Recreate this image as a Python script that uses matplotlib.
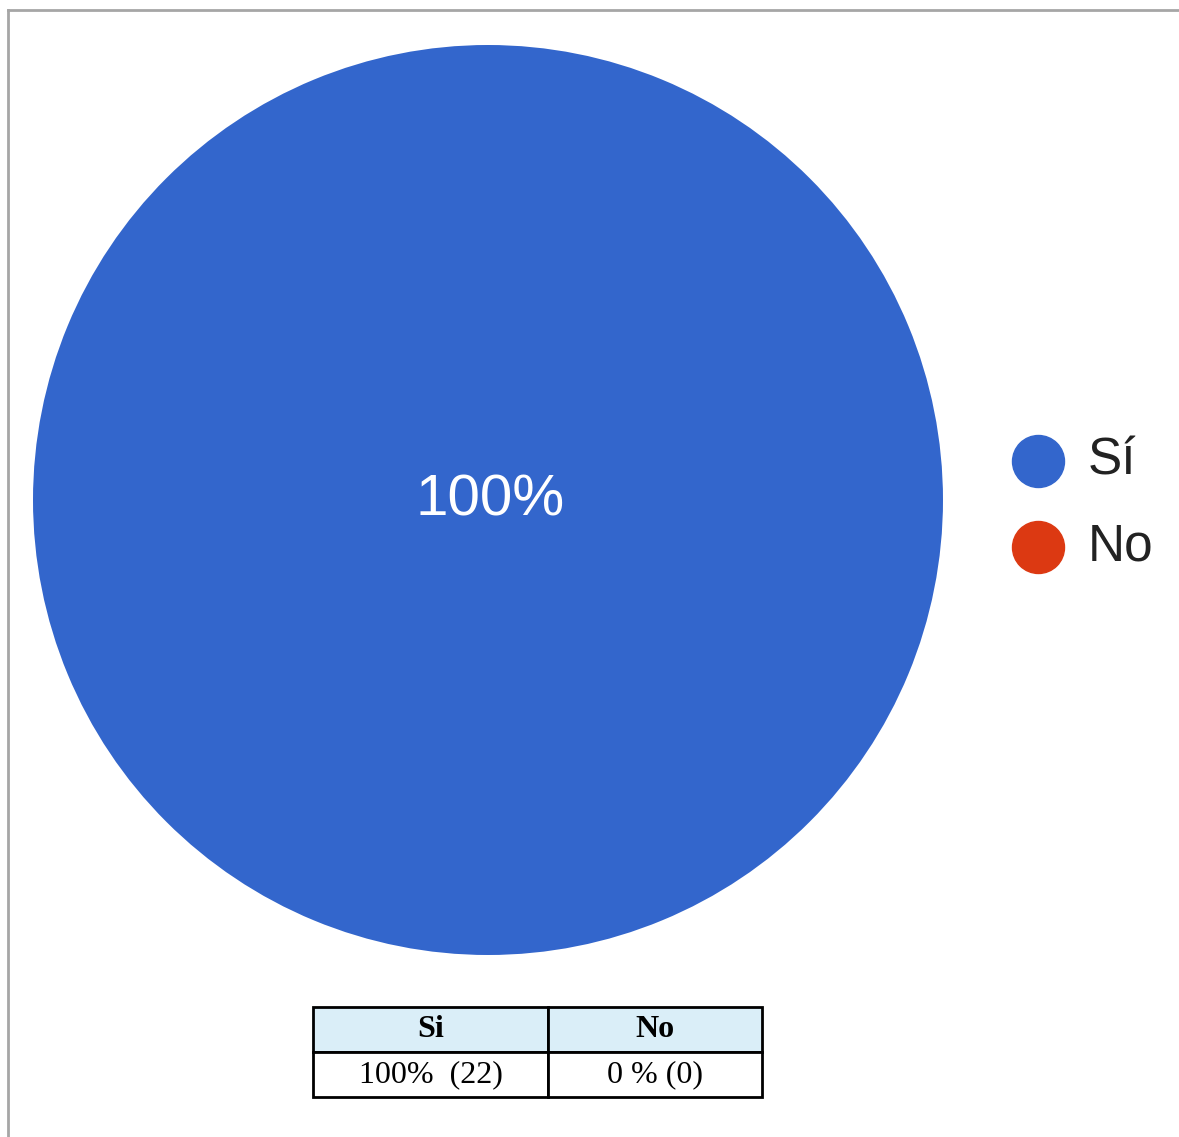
import matplotlib
matplotlib.use("Agg")
import matplotlib.pyplot as plt
from matplotlib.lines import Line2D

# Survey answers
categories = ["Sí", "No"]
counts = [22, 0]
colors = ["#3366CC", "#DC3912"]
center_label = "100%"
table_header = ["Si", "No"]
table_values = ["100%  (22)", "0 % (0)"]

W, H = 1179, 1137
fig = plt.figure(figsize=(W / 100, H / 100), dpi=100)
fig.patch.set_facecolor("white")

# Overlay axes in pixel coordinates for frame, legend and table
over = fig.add_axes([0, 0, 1, 1])
over.set_xlim(0, W)
over.set_ylim(H, 0)
over.axis("off")

# Thin gray frame along top and left
over.add_line(Line2D([8, 1178], [10, 10], color="#A6A6A6", lw=2))
over.add_line(Line2D([8, 8], [10, H], color="#A6A6A6", lw=2))

# Pie
cx, cy, r = 488, 500, 455
pie_ax = fig.add_axes([(cx - r) / W, (H - cy - r) / H, 2 * r / W, 2 * r / H])
pie_ax.pie(counts, colors=colors, startangle=90, counterclock=False,
           radius=1.0, wedgeprops=dict(linewidth=0))
pie_ax.set_xlim(-1, 1)
pie_ax.set_ylim(-1, 1)
pie_ax.set_aspect("equal")
pie_ax.axis("off")
pie_ax.text(0.005, 0.0, center_label, color="white", fontsize=42,
            family="Liberation Sans", ha="center", va="center")

# Legend
for i, (lab, col) in enumerate(zip(categories, colors)):
    y = 461 + i * 86
    over.scatter([1038], [y], s=(52 * 0.72) ** 2, color=col, zorder=3)
    over.text(1088, y, lab, fontsize=37, family="Liberation Sans",
              color="#222222", ha="left", va="center")

# Summary table
x0, xm, x1, y0, y1 = 313, 548, 762, 1007, 1097
tbl = over.table(cellText=[table_header, table_values],
                 cellLoc="center",
                 colWidths=[(xm - x0) / (x1 - x0), (x1 - xm) / (x1 - x0)],
                 bbox=[x0 / W, (H - y1) / H, (x1 - x0) / W, (y1 - y0) / H])
tbl.auto_set_font_size(False)
for (row, col), cell in tbl.get_celld().items():
    cell.set_linewidth(2)
    cell.set_edgecolor("black")
    txt = cell.get_text()
    txt.set_fontsize(23)
    txt.set_family("Liberation Serif")
    if row == 0:
        cell.set_facecolor("#DAEEF8")
        txt.set_fontweight("bold")
    else:
        cell.set_facecolor("white")

fig.savefig("out.png", dpi=100)
